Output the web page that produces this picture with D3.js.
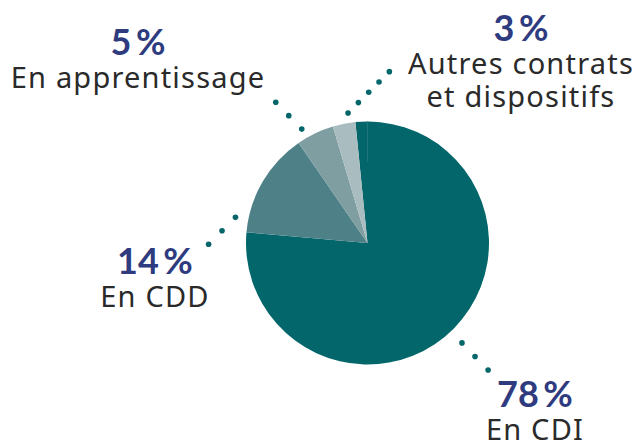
<!DOCTYPE html>
<html lang="fr">
<head>
  <meta charset="UTF-8">
  <title>Répartition par type de contrat</title>
  <style>
    body { margin: 0; background: #fff; }
    .pct { font-family: Lato, "Noto Sans", sans-serif; font-weight: 700; fill: #2f3b7f; }
    .lbl { font-family: "Noto Sans", sans-serif; font-weight: 400; fill: #2a2a2a; letter-spacing: 1.2px; }
  </style>
</head>
<body>
<div id="chart"></div>
<script src="https://d3js.org/d3.v7.min.js"></script>
<script>
  // data
  const categories = ["En CDI", "En CDD", "En apprentissage", "Autres contrats et dispositifs"];
  const values = [78, 14, 5, 3];
  const colors = ["#03666b", "#4d8087", "#7f9ea1", "#a9bdc0"];
  const pctLabels = ["78\u2009%", "14\u2009%", "5\u2009%", "3\u2009%"];
  const labelLines = [["En CDI"], ["En CDD"], ["En apprentissage"], ["Autres contrats", "et dispositifs"]];

  // label layout: anchor x, baseline of the percentage
  const labelPos = [[535, 407], [155, 274], [138, 55], [521, 41]];
  // leader dots: angle on pie (deg), gap from edge, direction (deg), count, step
  const leaders = [
    [136.6, 16, 136, 3, 18.8],
    [281, 13, 225, 3, 19],
    [330, 10, 316, 3, 18.7],
    [351.5, 10, 45, 5, 14.6]
  ];

  const width = 644, height = 444;
  const cx = 367.5, cy = 243, radius = 121.5;

  const svg = d3.select("#chart").append("svg")
    .attr("width", width)
    .attr("height", height);

  const pie = d3.pie().sort(null).startAngle(-0.1).endAngle(2 * Math.PI - 0.1);
  const arc = d3.arc().innerRadius(0).outerRadius(radius);

  const g = svg.append("g").attr("transform", `translate(${cx},${cy})`);

  g.selectAll("path")
    .data(pie(values))
    .enter().append("path")
    .attr("d", arc)
    .attr("fill", (d, i) => colors[i]);

  // faint seam at the top of the big slice
  g.append("line")
    .attr("x1", 0).attr("x2", 0)
    .attr("y1", -radius).attr("y2", -radius + 40)
    .attr("stroke", "#2a7c82")
    .attr("stroke-width", 0.7);

  // leader dots
  leaders.forEach(([a, gap, dir, n, step]) => {
    const ar = a * Math.PI / 180, dr = dir * Math.PI / 180;
    const x0 = Math.sin(ar) * (radius + gap), y0 = -Math.cos(ar) * (radius + gap);
    g.selectAll(null)
      .data(d3.range(n))
      .enter().append("circle")
      .attr("cx", k => x0 + Math.sin(dr) * step * k)
      .attr("cy", k => y0 - Math.cos(dr) * step * k)
      .attr("r", 2.8)
      .attr("fill", "#03666b");
  });

  // labels
  categories.forEach((c, i) => {
    const [x, y] = labelPos[i];
    svg.append("text")
      .attr("class", "pct")
      .attr("x", x).attr("y", y)
      .attr("text-anchor", "middle")
      .style("font-size", "36px")
      .text(pctLabels[i]);
    labelLines[i].forEach((line, j) => {
      svg.append("text")
        .attr("class", "lbl")
        .attr("x", x).attr("y", y + 33 + j * 33)
        .attr("text-anchor", "middle")
        .style("font-size", "29px")
        .text(line);
    });
  });
</script>
</body>
</html>
